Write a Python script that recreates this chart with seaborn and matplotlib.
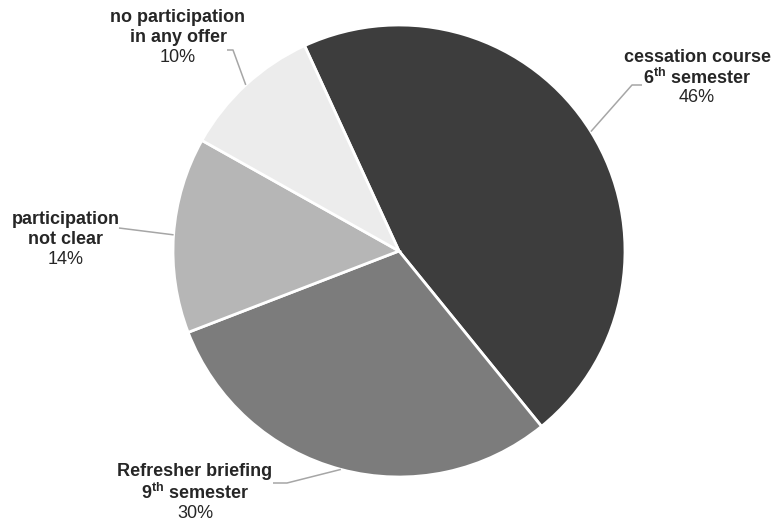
import matplotlib
matplotlib.use("Agg")
import matplotlib.pyplot as plt
import seaborn as sns
import numpy as np

# ---- data ----
categories = ["cessation course 6th semester", "Refresher briefing 9th semester",
              "participation not clear", "no participation in any offer"]
label_lines = [["cessation course", r"$\mathbf{6^{th}}$ semester"],
               ["Refresher briefing", r"$\mathbf{9^{th}}$ semester"],
               ["participation", "not clear"],
               ["no participation", "in any offer"]]
values = [46, 30, 14, 10]
pct_labels = ["46%", "30%", "14%", "10%"]
colors = ["#3d3d3d", "#7c7c7c", "#b6b6b6", "#ececec"]

# ---- layout (pixel coordinates, y from top) ----
W, H = 774, 522
center_px = (399, 251)
radius_px = 226
label_x = [697, 195, 66, 178]
label_y = [[58, 78, 98], [472, 493, 514], [219, 239, 260], [18, 38, 58]]
leader_start = [[(642, 85), (632, 85)], [(273, 483), (287, 483)],
                [(119, 228)], [(227, 50), (233, 50)]]

sns.set_theme(style="white")
plt.rcParams['font.family'] = ['Liberation Sans', 'DejaVu Sans']
plt.rcParams['mathtext.fontset'] = 'custom'
plt.rcParams['mathtext.rm'] = 'Liberation Sans'
plt.rcParams['mathtext.bf'] = 'Liberation Sans:bold'

fig = plt.figure(figsize=(W / 100, H / 100), dpi=100)
fig.patch.set_facecolor("white")
ax = fig.add_axes([0, 0, 1, 1])

wedges, _ = ax.pie(values, colors=colors, startangle=114.7, counterclock=False,
                   center=(center_px[0], H - center_px[1]), radius=radius_px,
                   wedgeprops=dict(edgecolor="white", linewidth=2))
ax.set_xlim(0, W)
ax.set_ylim(0, H)
ax.set_aspect("equal")
ax.axis("off")

txt_color = "#262626"
for i, w in enumerate(wedges):
    mid = np.deg2rad((w.theta1 + w.theta2) / 2)
    ex = center_px[0] + radius_px * np.cos(mid)
    ey = (H - center_px[1]) + radius_px * np.sin(mid)
    pts = [(x, H - y) for x, y in leader_start[i]] + [(ex, ey)]
    xs, ys = zip(*pts)
    ax.plot(xs, ys, color="#a6a6a6", lw=1.1, zorder=1, solid_capstyle="butt")
    for j, line in enumerate(label_lines[i]):
        ax.text(label_x[i], H - label_y[i][j], line, ha="center", va="center",
                fontsize=13, fontweight="bold", color=txt_color)
    ax.text(label_x[i], H - label_y[i][2], pct_labels[i], ha="center", va="center",
            fontsize=13, color=txt_color)

fig.savefig("out.png", dpi=100, facecolor="white")
